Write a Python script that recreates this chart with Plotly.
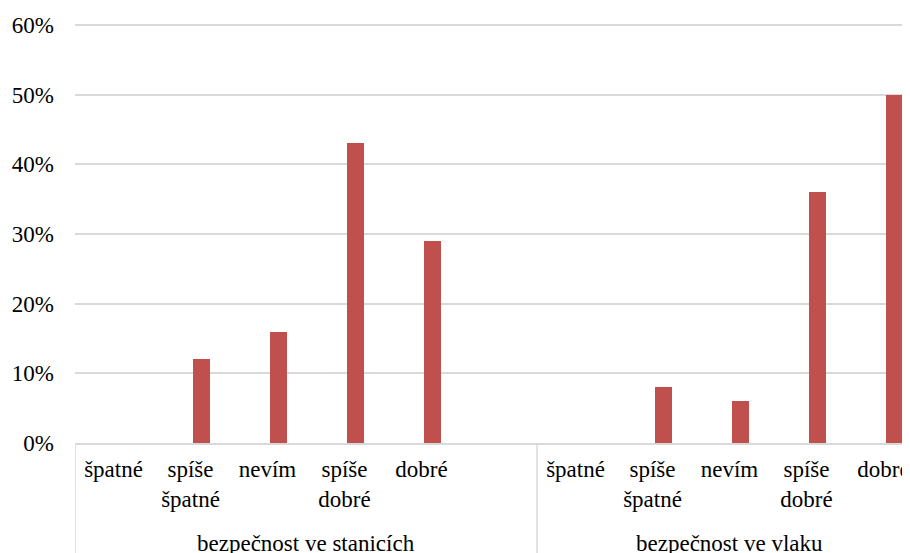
import plotly.graph_objects as go

groups = ["bezpečnost ve stanicích", "bezpečnost ve vlaku"]
group1_labels = ["špatné", "spíše<br>špatné", "nevím", "spíše<br>dobré", "dobré", ""]
group1_values = [0, 12, 16, 43, 29, None]
group2_labels = ["špatné", "spíše<br>špatné", "nevím", "spíše<br>dobré", "dobré"]
group2_values = [0, 8, 6, 36, 50]
y_ticks = [0, 10, 20, 30, 40, 50, 60]
y_ticktext = ["0%", "10%", "20%", "30%", "40%", "50%", "60%"]

labels = group1_labels + group2_labels
values = group1_values + group2_values
xs = list(range(len(labels)))

FONT = "Liberation Serif, Times New Roman, serif"
RED = "#C0504D"
GRID = "#D9D9D9"

fig = go.Figure()
fig.add_trace(go.Bar(
    x=xs, y=values,
    marker=dict(color=RED, line=dict(width=0)),
    width=0.22, offset=0.03,
    hoverinfo="skip",
))

shapes = []
bounds = [-0.5, len(group1_labels) - 0.5]
for b in bounds:
    shapes.append(dict(type="line", xref="x", yref="paper", x0=b, x1=b, y0=0, y1=-0.4,
                       line=dict(color=GRID, width=1.5)))

annotations = []
starts = [0, len(group1_labels)]
sizes = [len(group1_labels), len(group2_labels)]
for g, s, n in zip(groups, starts, sizes):
    annotations.append(dict(text=g, xref="x", yref="paper", x=s - 0.5 + n / 2, y=0,
                            yshift=-100, yanchor="middle", xanchor="center",
                            showarrow=False, font=dict(family=FONT, size=23, color="#000")))

fig.update_layout(
    width=910, height=553,
    margin=dict(l=67, r=0, t=10, b=118),
    paper_bgcolor="white", plot_bgcolor="white",
    showlegend=False,
    font=dict(family=FONT, size=23, color="#000"),
    shapes=shapes, annotations=annotations,
    bargap=0,
)
fig.update_xaxes(
    range=[-0.5, -0.5 + 843 / 77], tickmode="array", tickvals=xs, ticktext=labels,
    showgrid=False, showline=True, linecolor=GRID, linewidth=1.5, ticks="",
    tickangle=0, zeroline=False, ticklabelstandoff=5,
    tickfont=dict(family=FONT, size=23, color="#000"),
)
fig.update_yaxes(
    range=[0, 61], tickvals=y_ticks, ticktext=y_ticktext,
    showgrid=True, gridcolor=GRID, gridwidth=1.5, zeroline=False, showline=False,
    ticks="", ticklabelstandoff=20,
    tickfont=dict(family=FONT, size=23, color="#000"),
)
fig.write_html("out.html")
